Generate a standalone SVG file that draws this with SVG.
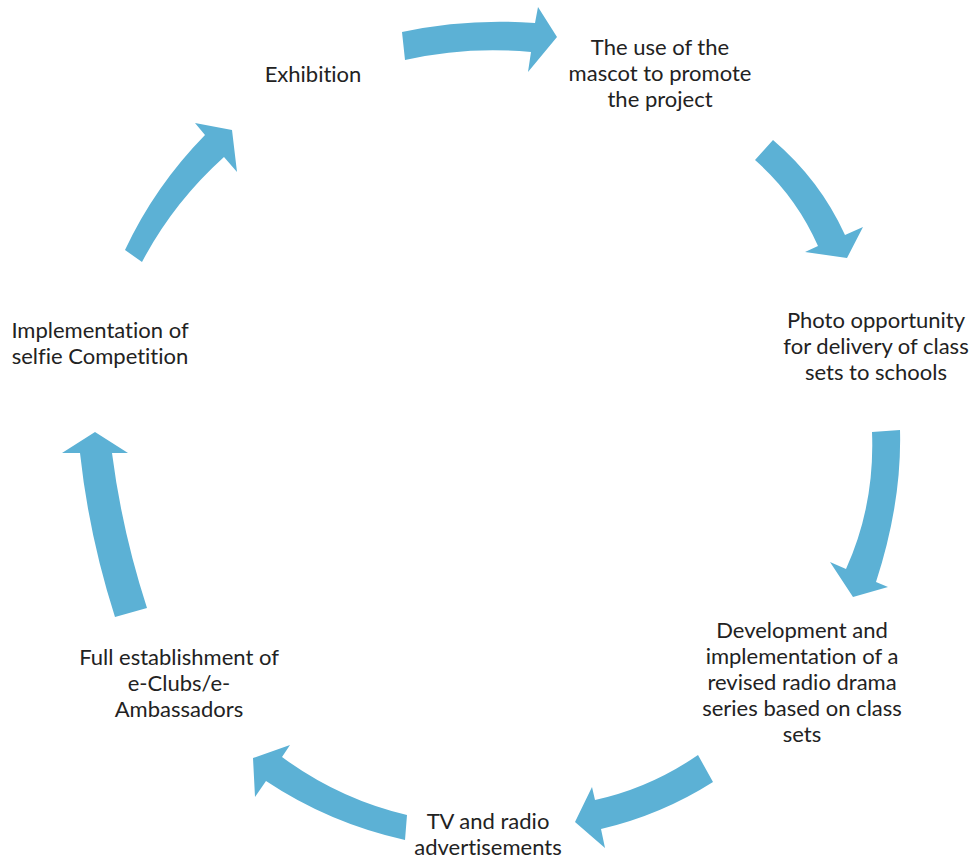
<svg xmlns="http://www.w3.org/2000/svg" width="973" height="859" viewBox="0 0 973 859">
  <style>
    .arrow { fill: #5cb1d5; }
    .label { font-family: Lato, "Open Sans", "Liberation Sans", sans-serif; font-size: 22px; fill: #222222; text-anchor: middle; font-variant-ligatures: none; }
  </style>
  <rect width="973" height="859" fill="#ffffff"/>

  <!-- curved block arrows running clockwise round the cycle -->
  <g id="connectors">
    <path class="arrow" d="M402,32 Q467,18 535,23 L538,7 L557,37 L528,72 L531,52 Q467,46 405,60 Z"/>
    <path class="arrow" d="M773,140 Q820,180 845,235 L863,227 L847,258 L805,252 L818,246 Q796,196 755,160 Z"/>
    <path class="arrow" d="M900,430 Q902,502 876,582 L888,587 L853,597 L830,562 L846,569 Q875,505 872,432 Z"/>
    <path class="arrow" d="M698,755 Q650,788 595,800 L592,787 L575,822 L605,848 L601,829 Q661,815 713,782 Z"/>
    <path class="arrow" d="M407,815 Q339,799 282,757 L290,745 L253,758 L255,797 L266,781 Q329,823 405,840 Z"/>
    <path class="arrow" d="M115,617 Q89,536 80,453 L62,453 L95,432 L128,453 L112,453 Q122,531 147,608 Z"/>
    <path class="arrow" d="M125,250 Q155,186 205,135 L195,123 L232,130 L237,172 L224,157 Q173,203 142,262 Z"/>
  </g>

  <g id="exhibition">
    <text class="label" x="313" y="82">Exhibition</text>
  </g>
  <g id="mascot">
    <text class="label" x="660" y="55">The use of the</text>
    <text class="label" x="660" y="81">mascot to promote</text>
    <text class="label" x="660" y="107">the project</text>
  </g>
  <g id="photo-opportunity">
    <text class="label" x="876" y="328">Photo opportunity</text>
    <text class="label" x="876" y="354">for delivery of class</text>
    <text class="label" x="876" y="380">sets to schools</text>
  </g>
  <g id="radio-drama">
    <text class="label" x="802" y="638">Development and</text>
    <text class="label" x="802" y="664">implementation of a</text>
    <text class="label" x="802" y="690">revised radio drama</text>
    <text class="label" x="802" y="716">series based on class</text>
    <text class="label" x="802" y="742">sets</text>
  </g>
  <g id="tv-radio">
    <text class="label" x="488" y="829">TV and radio</text>
    <text class="label" x="488" y="855">advertisements</text>
  </g>
  <g id="e-clubs">
    <text class="label" x="179" y="665">Full establishment of</text>
    <text class="label" x="179" y="691">e-Clubs/e-</text>
    <text class="label" x="179" y="717">Ambassadors</text>
  </g>
  <g id="selfie-competition">
    <text class="label" x="100" y="338">Implementation of</text>
    <text class="label" x="100" y="364">selfie Competition</text>
  </g>
</svg>
